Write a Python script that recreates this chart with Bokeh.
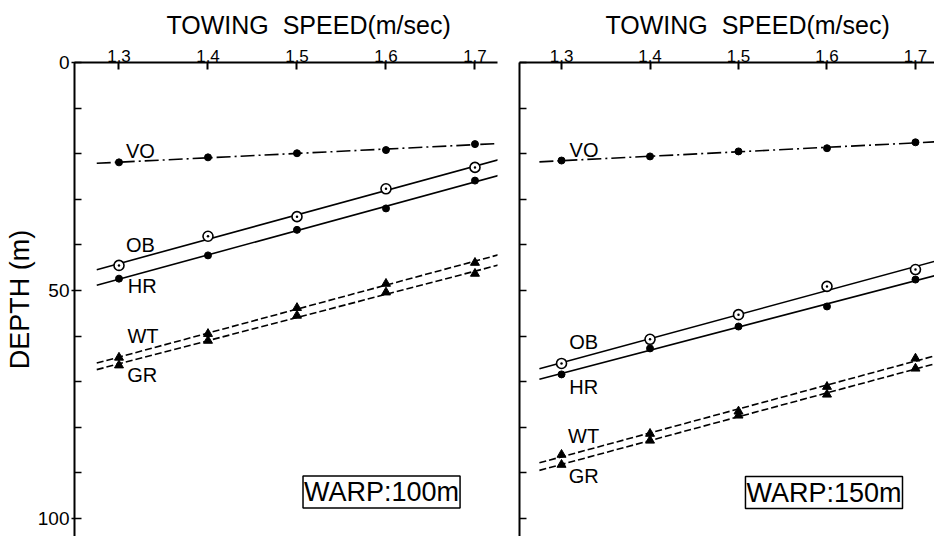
import numpy as np
from bokeh.plotting import figure
from bokeh.layouts import row
from bokeh.models import Range1d, FixedTicker, Label
from bokeh.core.properties import value
from bokeh.embed import file_html
from bokeh.resources import INLINE

FONT = "Liberation Sans"

# ---- data ----
speed = [1.3, 1.4, 1.5, 1.6, 1.7]
x_ticks = [1.3, 1.4, 1.5, 1.6, 1.7]
y_major = [0, 50, 100]
y_minor = [10, 20, 30, 40, 60, 70, 80, 90]

# WARP 100 m
vo_100 = [21.9, 20.8, 19.9, 19.2, 17.9]
ob_100 = [44.5, 38.1, 33.8, 27.7, 23.0]
hr_100 = [47.4, 42.3, 36.7, 32.0, 25.9]
wt_100 = [64.7, 59.5, 53.8, 48.5, 43.9]
gr_100 = [66.4, 61.0, 55.5, 50.4, 46.3]

# WARP 150 m
vo_150 = [21.5, 20.6, 19.5, 18.8, 17.5]
ob_150 = [66.0, 60.7, 55.3, 49.1, 45.4]
hr_150 = [68.4, 62.7, 57.9, 53.5, 47.6]
wt_150 = [86.0, 81.4, 76.5, 71.1, 64.9]
gr_150 = [88.2, 82.9, 77.4, 72.8, 67.1]

names = ["VO", "OB", "HR", "WT", "GR"]
warp_labels = ["WARP:100m", "WARP:150m"]
x_title = "TOWING\u00a0\u00a0SPEED(m/sec)"

# label positions (placement only)
lab_pos_100 = [(1.324, 19.3), (1.324, 40.1), (1.326, 49.1), (1.327, 59.9), (1.326, 68.5)]
lab_pos_150 = [(1.3254, 19.1), (1.325, 61.3), (1.325, 71.1), (1.325, 82.0), (1.325, 90.7)]
warp_pos = [(1.595, 94.2), (1.5966, 94.3)]

H = 536
TOP = 62
Y_BOTTOM = (H - TOP) / 4.56


def make_panel(series, lab_pos, warp_text, wpos, xr, width, bl, br, title_off, show_ylabels):
    p = figure(width=width, height=H, x_range=Range1d(*xr), y_range=Range1d(Y_BOTTOM, 0),
               x_axis_location="above", output_backend="svg", toolbar_location=None,
               min_border_left=bl, min_border_right=br, min_border_top=TOP, min_border_bottom=0)
    p.outline_line_color = None
    p.xgrid.visible = False
    p.ygrid.visible = False
    p.background_fill_color = "white"

    p.title.text = x_title
    p.title.align = "left"
    p.title.offset = title_off
    p.title.text_font = FONT
    p.title.text_font_size = "25px"
    p.title.text_font_style = "normal"
    p.title.text_color = "black"
    p.title.standoff = 16

    xa = p.xaxis[0]
    xa.ticker = FixedTicker(ticks=x_ticks)
    xa.major_tick_in = 7
    xa.major_tick_out = 0
    xa.minor_tick_line_color = None
    xa.major_label_standoff = 1
    xa.major_label_text_font = FONT
    xa.major_label_text_font_size = "17px"
    xa.major_label_text_color = "black"
    xa.axis_line_width = 2
    xa.major_tick_line_width = 2
    xa.axis_line_color = "black"

    ya = p.yaxis[0]
    ya.ticker = FixedTicker(ticks=y_major, minor_ticks=y_minor)
    ya.major_tick_in = 7
    ya.major_tick_out = 3
    ya.minor_tick_in = 7
    ya.minor_tick_out = 0
    ya.axis_line_width = 2
    ya.major_tick_line_width = 1.5
    ya.minor_tick_line_width = 1.5
    ya.axis_line_color = "black"
    ya.major_label_text_font = FONT
    ya.major_label_text_font_size = "19px"
    ya.major_label_text_color = "black"
    if show_ylabels:
        ya.major_label_standoff = 2
        ya.axis_label = "DEPTH (m)"
        ya.axis_label_text_font = FONT
        ya.axis_label_text_font_size = "27px"
        ya.axis_label_text_font_style = "normal"
        ya.axis_label_text_color = "black"
        ya.axis_label_standoff = 0
    else:
        ya.major_label_overrides = {0: "", 50: "", 100: ""}
        ya.major_label_standoff = 0
        ya.major_tick_out = 0

    vo, ob, hr, wt, gr = series
    xline = np.array([1.275, 1.73])
    styles = [(vo, "14 4 2 4"), (ob, "solid"), (hr, "solid"), (wt, "7 3"), (gr, "7 3")]
    for ys, dash in styles:
        k, b = np.polyfit(speed, ys, 1)
        p.line(xline, k * xline + b, line_color="black", line_width=1.6, line_dash=dash)

    p.scatter(speed, vo, marker="circle", size=7, color="black")
    p.scatter(speed, hr, marker="circle", size=7, color="black")
    p.scatter(speed, ob, marker="circle_dot", size=10, line_color="black",
              fill_color="white", line_width=1.6)
    p.scatter(speed, wt, marker="triangle", size=9, color="black")
    p.scatter(speed, gr, marker="triangle", size=9, color="black")

    p.text(x=[q[0] for q in lab_pos], y=[q[1] for q in lab_pos], text=names,
           text_align="center", text_baseline="middle", text_font=value(FONT),
           text_font_size="20px", text_color="black")

    p.add_layout(Label(x=wpos[0], y=wpos[1], text=warp_text, text_align="center",
                       text_baseline="middle", text_font=FONT, text_font_size="27px",
                       text_color="black", border_line_color="black", border_line_width=1.5,
                       background_fill_color="white", padding=1))
    return p


p1 = make_panel((vo_100, ob_100, hr_100, wt_100, gr_100), lab_pos_100, warp_labels[0], warp_pos[0],
                (1.25, 1.7253), 508, 74, 11, 92, True)
p2 = make_panel((vo_150, ob_150, hr_150, wt_150, gr_150), lab_pos_150, warp_labels[1], warp_pos[1],
                (1.2525, 1.7215), 426, 11, 0, 86, False)

layout = row(p1, p2, spacing=0)
open("out.html", "w").write(file_html(layout, INLINE))
